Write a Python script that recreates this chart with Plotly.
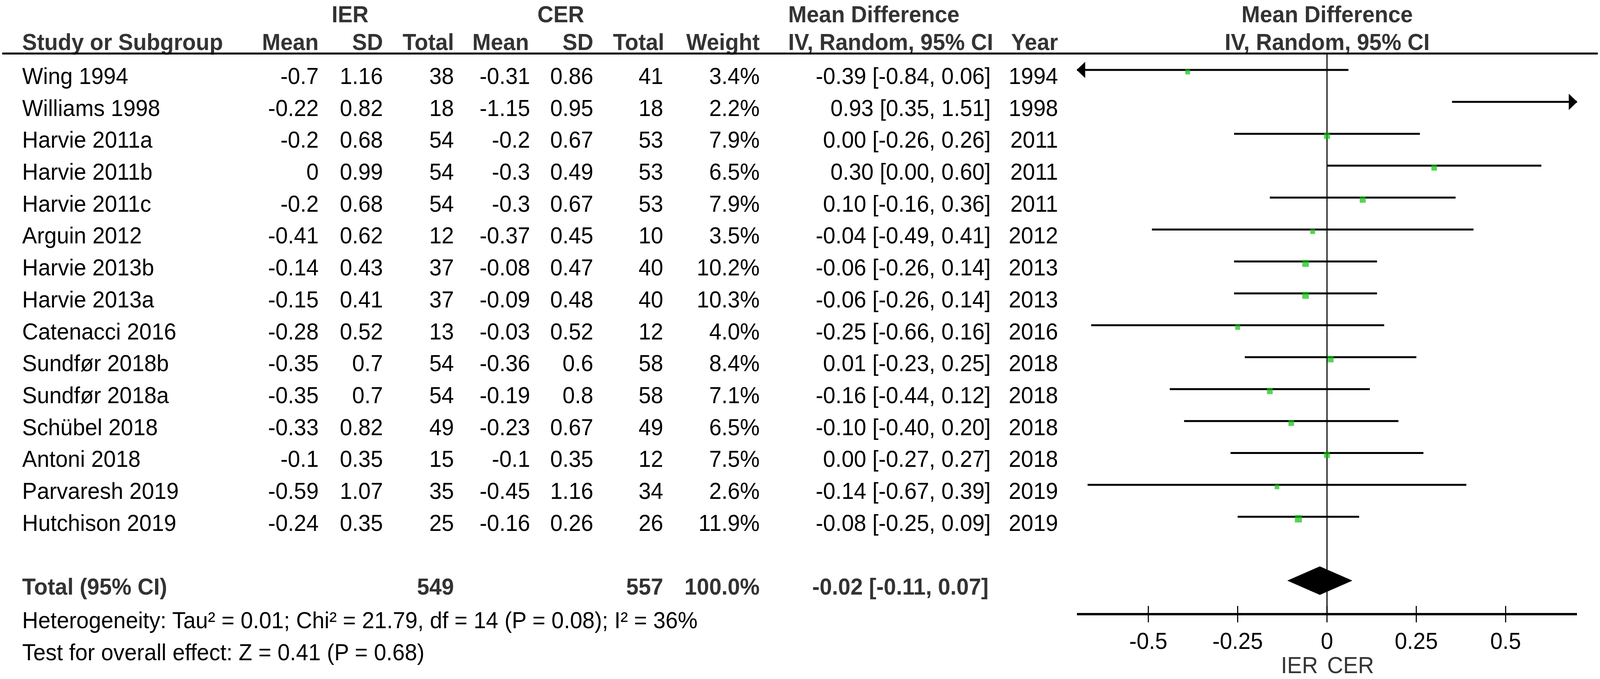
import plotly.graph_objects as go

W, H = 4328, 1738

# ---- data ----
studies = ["Wing 1994", "Williams 1998", "Harvie 2011a", "Harvie 2011b", "Harvie 2011c",
           "Arguin 2012", "Harvie 2013b", "Harvie 2013a", "Catenacci 2016", "Sundfør 2018b",
           "Sundfør 2018a", "Schübel 2018", "Antoni 2018", "Parvaresh 2019", "Hutchison 2019"]
ier_mean = [-0.7, -0.22, -0.2, 0, -0.2, -0.41, -0.14, -0.15, -0.28, -0.35, -0.35, -0.33, -0.1, -0.59, -0.24]
ier_sd = [1.16, 0.82, 0.68, 0.99, 0.68, 0.62, 0.43, 0.41, 0.52, 0.7, 0.7, 0.82, 0.35, 1.07, 0.35]
ier_n = [38, 18, 54, 54, 54, 12, 37, 37, 13, 54, 54, 49, 15, 35, 25]
cer_mean = [-0.31, -1.15, -0.2, -0.3, -0.3, -0.37, -0.08, -0.09, -0.03, -0.36, -0.19, -0.23, -0.1, -0.45, -0.16]
cer_sd = [0.86, 0.95, 0.67, 0.49, 0.67, 0.45, 0.47, 0.48, 0.52, 0.6, 0.8, 0.67, 0.35, 1.16, 0.26]
cer_n = [41, 18, 53, 53, 53, 10, 40, 40, 12, 58, 58, 49, 12, 34, 26]
weights = [3.4, 2.2, 7.9, 6.5, 7.9, 3.5, 10.2, 10.3, 4.0, 8.4, 7.1, 6.5, 7.5, 2.6, 11.9]
md = [-0.39, 0.93, 0.00, 0.30, 0.10, -0.04, -0.06, -0.06, -0.25, 0.01, -0.16, -0.10, 0.00, -0.14, -0.08]
ci_lo = [-0.84, 0.35, -0.26, 0.00, -0.16, -0.49, -0.26, -0.26, -0.66, -0.23, -0.44, -0.40, -0.27, -0.67, -0.25]
ci_hi = [0.06, 1.51, 0.26, 0.60, 0.36, 0.41, 0.14, 0.14, 0.16, 0.25, 0.12, 0.20, 0.27, 0.39, 0.09]
years = [1994, 1998, 2011, 2011, 2011, 2012, 2013, 2013, 2016, 2018, 2018, 2018, 2018, 2019, 2019]

total_ier = 549
total_cer = 557
total_weight = 100.0
total_md, total_lo, total_hi = -0.02, -0.11, 0.07
heterogeneity = "Heterogeneity: Tau² = 0.01; Chi² = 21.79, df = 14 (P = 0.08); I² = 36%"
overall_effect = "Test for overall effect: Z = 0.41 (P = 0.68)"
tick_vals = [-0.5, -0.25, 0, 0.25, 0.5]
tick_text = ["-0.5", "-0.25", "0", "0.25", "0.5"]
favours = ["IER", "CER"]

# ---- layout constants (page pixels) ----
FONT = "Arial, Liberation Sans, sans-serif"
FS = 60
HEAD_COL = "#333333"
GREEN = "#10c010"
ROW0, ROW_H = 200, 81.7
BAR_OFF = -21
X_LO, X_HI = -0.7, 0.7
PLOT_L, PLOT_R = 2913, 4266
RULE_Y = 137
AXIS_Y = 1572
TICK_HALF = 21
HEAD_Y1, HEAD_Y2 = 42, 113

fig = go.Figure()


def add_text(xs, ys, labels, pos, bold=False, color="black"):
    fig.add_trace(go.Scatter(
        x=xs, y=ys, text=labels, mode="text", textposition=pos,
        textfont=dict(family=FONT, size=FS, color=color,
                      weight="bold" if bold else "normal"),
        hoverinfo="skip", showlegend=False, cliponaxis=False, xaxis="x", yaxis="y"))


n = len(studies)
row_y = [ROW0 + i * ROW_H for i in range(n)]
total_y = ROW0 + (n + 1) * ROW_H

# header
add_text([947, 1517, 2132], [HEAD_Y1] * 3, ["IER", "CER", "Mean Difference"],
         ["middle center", "middle center", "middle right"], bold=True, color=HEAD_COL)
add_text([60, 2132], [HEAD_Y2] * 2, ["Study or Subgroup", "IV, Random, 95% CI"],
         "middle right", bold=True, color=HEAD_COL)
add_text([862, 1036, 1228, 1431, 1605, 1797, 2055, 2862], [HEAD_Y2] * 8,
         ["Mean", "SD", "Total", "Mean", "SD", "Total", "Weight", "Year"],
         "middle left", bold=True, color=HEAD_COL)
add_text([3590, 3590], [HEAD_Y1, HEAD_Y2], ["Mean Difference", "IV, Random, 95% CI"],
         "middle center", bold=True, color=HEAD_COL)

# table body
add_text([60] * n, row_y, studies, "middle right")
cols = [
    (862, [f"{v:g}" for v in ier_mean]),
    (1036, [f"{v:g}" for v in ier_sd]),
    (1228, [str(v) for v in ier_n]),
    (1434, [f"{v:g}" for v in cer_mean]),
    (1605, [f"{v:g}" for v in cer_sd]),
    (1794, [str(v) for v in cer_n]),
    (2055, [f"{v:.1f}%" for v in weights]),
    (2680, [f"{m:.2f} [{l:.2f}, {h:.2f}]" for m, l, h in zip(md, ci_lo, ci_hi)]),
    (2862, [str(v) for v in years]),
]
for cx, labels in cols:
    add_text([cx] * n, row_y, labels, "middle left")

# totals and footnotes
add_text([60], [total_y], ["Total (95% CI)"], "middle right", bold=True, color=HEAD_COL)
add_text([1228, 1794, 2055, 2674], [total_y] * 4,
         [str(total_ier), str(total_cer), f"{total_weight:.1f}%",
          f"{total_md:.2f} [{total_lo:.2f}, {total_hi:.2f}]"],
         "middle left", bold=True, color=HEAD_COL)
add_text([60, 60], [total_y + 86, total_y + 168], [heterogeneity, overall_effect], "middle right")
add_text([3565, 3590], [1708, 1708], favours, ["middle left", "middle right"], color=HEAD_COL)

# header rule
fig.add_trace(go.Scatter(x=[6, W - 6], y=[RULE_Y, RULE_Y], mode="lines",
                         line=dict(color="black", width=5), hoverinfo="skip",
                         showlegend=False, xaxis="x", yaxis="y"))

# ---- forest plot ----
px_unit = (X_HI - X_LO) / (PLOT_R - PLOT_L)
bar_y = [y + BAR_OFF for y in row_y]

# line of no effect
fig.add_trace(go.Scatter(x=[0, 0], y=[RULE_Y, AXIS_Y], mode="lines",
                         line=dict(color="black", width=3), hoverinfo="skip",
                         showlegend=False, xaxis="x2", yaxis="y"))

# confidence intervals (clipped to the axis range)
cx, cy = [], []
heads_x, heads_y = [], []
head_len, head_half = 22 * px_unit, 20
for lo, hi, y in zip(ci_lo, ci_hi, bar_y):
    a, b = max(lo, X_LO), min(hi, X_HI)
    cx += [a, b, None]
    cy += [y, y, None]
    if lo < X_LO:
        heads_x += [X_LO, X_LO + head_len, X_LO + head_len, X_LO, None]
        heads_y += [y, y - head_half, y + head_half, y, None]
    if hi > X_HI:
        heads_x += [X_HI, X_HI - head_len, X_HI - head_len, X_HI, None]
        heads_y += [y, y - head_half, y + head_half, y, None]
fig.add_trace(go.Scatter(x=cx, y=cy, mode="lines", line=dict(color="black", width=5),
                         hoverinfo="skip", showlegend=False, xaxis="x2", yaxis="y"))
fig.add_trace(go.Scatter(x=heads_x, y=heads_y, mode="lines", fill="toself",
                         fillcolor="black", line=dict(color="black", width=1),
                         hoverinfo="skip", showlegend=False, xaxis="x2", yaxis="y"))

# study squares (size by weight)
sq = [(m, y + 5, 10.6 + 0.7 * w) for m, y, w in zip(md, bar_y, weights) if X_LO <= m <= X_HI]
fig.add_trace(go.Scatter(x=[s[0] for s in sq], y=[s[1] for s in sq], mode="markers",
                         marker=dict(symbol="square", color=GREEN, size=[s[2] for s in sq],
                                     line=dict(width=0)),
                         hoverinfo="skip", showlegend=False, xaxis="x2", yaxis="y"))

# pooled diamond
dy = total_y + BAR_OFF
fig.add_trace(go.Scatter(x=[total_lo, total_md, total_hi, total_md, total_lo],
                         y=[dy, dy - 36, dy, dy + 36, dy], mode="lines", fill="toself",
                         fillcolor="black", line=dict(color="black", width=1),
                         hoverinfo="skip", showlegend=False, xaxis="x2", yaxis="y"))

# tick marks crossing the axis line
tx, ty = [], []
for t in tick_vals:
    tx += [t, t, None]
    ty += [AXIS_Y - TICK_HALF, AXIS_Y + TICK_HALF, None]
fig.add_trace(go.Scatter(x=tx, y=ty, mode="lines", line=dict(color="black", width=3),
                         hoverinfo="skip", showlegend=False, cliponaxis=False,
                         xaxis="x2", yaxis="y"))

fig.update_layout(
    width=W, height=H,
    margin=dict(l=0, r=0, t=0, b=0),
    paper_bgcolor="white", plot_bgcolor="rgba(0,0,0,0)",
    showlegend=False,
    xaxis=dict(domain=[0, 1], range=[0, W], visible=False, fixedrange=True),
    yaxis=dict(domain=[0, 1], range=[H, 0], visible=False, fixedrange=True),
    xaxis2=dict(domain=[PLOT_L / W, PLOT_R / W], range=[X_LO, X_HI], anchor="free",
                position=1 - AXIS_Y / H, showline=True, linecolor="black", linewidth=5.5,
                ticks="", tickvals=tick_vals, ticktext=tick_text, ticklabelstandoff=14,
                tickfont=dict(family=FONT, size=FS, color="black"),
                showgrid=False, zeroline=False, fixedrange=True),
)

# stretch the fixed-size figure over whatever viewport the page gets
fit_js = """
var gd = document.getElementById('{plot_id}');
var sx = window.innerWidth / %d, sy = window.innerHeight / %d;
document.body.style.margin = '0';
document.body.style.overflow = 'hidden';
gd.style.transformOrigin = '0 0';
gd.style.transform = 'scale(' + sx + ',' + sy + ')';
""" % (W, H)

fig.write_html("out.html", config={"displayModeBar": False}, post_script=fit_js)
